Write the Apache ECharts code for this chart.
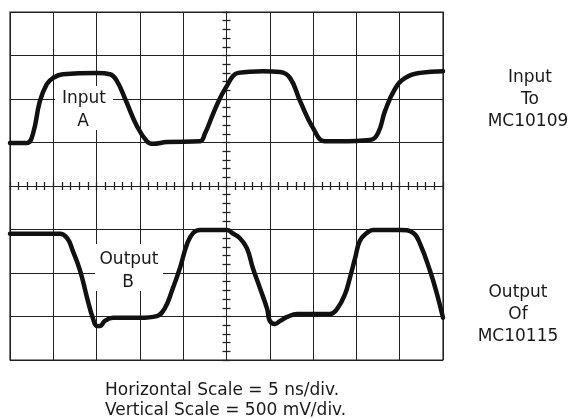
<!DOCTYPE html>
<html>
<head>
<meta charset="utf-8">
<script src="https://cdn.jsdelivr.net/npm/echarts@6/dist/echarts.min.js"></script>
<style>
html,body{margin:0;padding:0;background:#fff;}
#chart{width:574px;height:419px;}
</style>
</head>
<body>
<div id="chart"></div>
<script>
// Time (ns, 0 at screen centre) and voltage (V, 0 at screen centre)
const inputT = [-25, -23.05, -22.35, -21.55, -20.75, -20.05, -18.9, -14.95, -13.45, -12.65, -11.7, -10.35, -9.2, -8.5, -6.85, -3.05, -2.5, -1.55, -0.75, 0.05, 0.75, 1.35, 4.2, 6.2, 7.35, 8.5, 10, 11.35, 13.1, 16.55, 17.5, 18.3, 19.45, 20.6, 22.35, 25];
const inputV = [0.495, 0.495, 0.6, 0.975, 1.17, 1.24, 1.285, 1.3, 1.285, 1.205, 1.0, 0.69, 0.515, 0.485, 0.505, 0.515, 0.6, 0.83, 1.01, 1.15, 1.265, 1.3, 1.32, 1.31, 1.24, 0.975, 0.665, 0.515, 0.515, 0.53, 0.61, 0.86, 1.115, 1.24, 1.3, 1.32];
const outputT = [-25, -19.25, -18.4, -17.75, -16.9, -16.1, -15.4, -14.95, -14.6, -14.05, -13.1, -10, -8.05, -7.1, -6.3, -5.35, -4.55, -3.85, -3.05, 0.05, 0.65, 1.55, 2.35, 3.05, 3.85, 4.7, 5, 5.6, 6.2, 7, 8.15, 11.95, 12.75, 13.7, 14.25, 14.85, 15.4, 16.2, 16.9, 20.05, 21.55, 22.35, 23.5, 24.3, 25];
const outputV = [-0.55, -0.55, -0.6, -0.745, -0.975, -1.285, -1.53, -1.61, -1.61, -1.55, -1.515, -1.515, -1.495, -1.4, -1.205, -0.935, -0.665, -0.54, -0.505, -0.505, -0.54, -0.6, -0.715, -0.945, -1.17, -1.415, -1.55, -1.585, -1.55, -1.505, -1.47, -1.47, -1.415, -1.24, -1.055, -0.83, -0.63, -0.54, -0.505, -0.505, -0.54, -0.665, -0.975, -1.24, -1.515];

const traceLabels = { input: ['Input', 'A'], output: ['Output', 'B'] };
const sideLabels = { input: ['Input', 'To', 'MC10109'], output: ['Output', 'Of', 'MC10115'] };
const scaleLabels = ['Horizontal Scale = 5 ns/div.', 'Vertical Scale = 500 mV/div.'];

const FONT = '17px "DejaVu Sans"';
const INK = '#1a1a1a';
const GRID = '#222';

function pairs(xs, ys) { return xs.map((x, i) => [x, ys[i]]); }

const tickLine = { color: GRID, width: 1.3 };
function xAx(pos, split) {
  return {
    type: 'value', min: -25, max: 25, interval: 5, position: pos,
    axisLine: { show: true, onZero: true, lineStyle: { color: GRID, width: 1 } },
    axisTick: { show: true, length: 4, inside: false, lineStyle: tickLine },
    minorTick: { show: true, splitNumber: 5, length: 4, lineStyle: tickLine },
    axisLabel: { show: false },
    splitLine: { show: split, lineStyle: { color: GRID, width: 1 } }
  };
}
function yAx(pos, split) {
  return {
    type: 'value', min: -2, max: 2, interval: 0.5, position: pos,
    axisLine: { show: true, onZero: true, lineStyle: { color: GRID, width: 1 } },
    axisTick: { show: true, length: 4, inside: false, lineStyle: tickLine },
    minorTick: { show: true, splitNumber: 5, length: 4, lineStyle: tickLine },
    axisLabel: { show: false },
    splitLine: { show: split, lineStyle: { color: GRID, width: 1 } }
  };
}

function txt(text, x, y, align) {
  return { type: 'text', z: 100, style: { text: text, x: x, y: y, font: FONT, fill: INK, align: align || 'center', verticalAlign: 'middle' } };
}

const lineStyle = { color: '#111', width: 4.5, cap: 'round', join: 'round' };

const chart = echarts.init(document.getElementById('chart'), null, { renderer: 'canvas' });
chart.setOption({
  animation: false,
  backgroundColor: '#fff',
  grid: { left: 10, top: 12, width: 433, height: 348, show: true, borderColor: GRID, borderWidth: 1.2 },
  xAxis: [xAx('bottom', true), xAx('top', false)],
  yAxis: [yAx('left', true), yAx('right', false)],
  series: [
    { type: 'line', name: 'Input A', data: pairs(inputT, inputV), showSymbol: false, smooth: 0.45, lineStyle: lineStyle, z: 5 },
    { type: 'line', name: 'Output B', data: pairs(outputT, outputV), showSymbol: false, smooth: 0.45, lineStyle: lineStyle, z: 5 }
  ],
  graphic: [
    { type: 'rect', z: 99, shape: { x: 55, y: 86, width: 58, height: 44 }, style: { fill: '#fff' } },
    { type: 'rect', z: 99, shape: { x: 95, y: 244, width: 68, height: 47 }, style: { fill: '#fff' } },
    txt(traceLabels.input[0], 84, 99),
    txt(traceLabels.input[1], 83, 122),
    txt(traceLabels.output[0], 129, 260),
    txt(traceLabels.output[1], 128, 283),
    txt(sideLabels.input[0], 530, 78),
    txt(sideLabels.input[1], 530, 100),
    txt(sideLabels.input[2], 528, 122),
    txt(sideLabels.output[0], 518, 293),
    txt(sideLabels.output[1], 518, 315),
    txt(sideLabels.output[2], 518, 337),
    txt(scaleLabels[0], 105, 391, 'left'),
    txt(scaleLabels[1], 105, 411, 'left')
  ]
});
</script>
</body>
</html>
